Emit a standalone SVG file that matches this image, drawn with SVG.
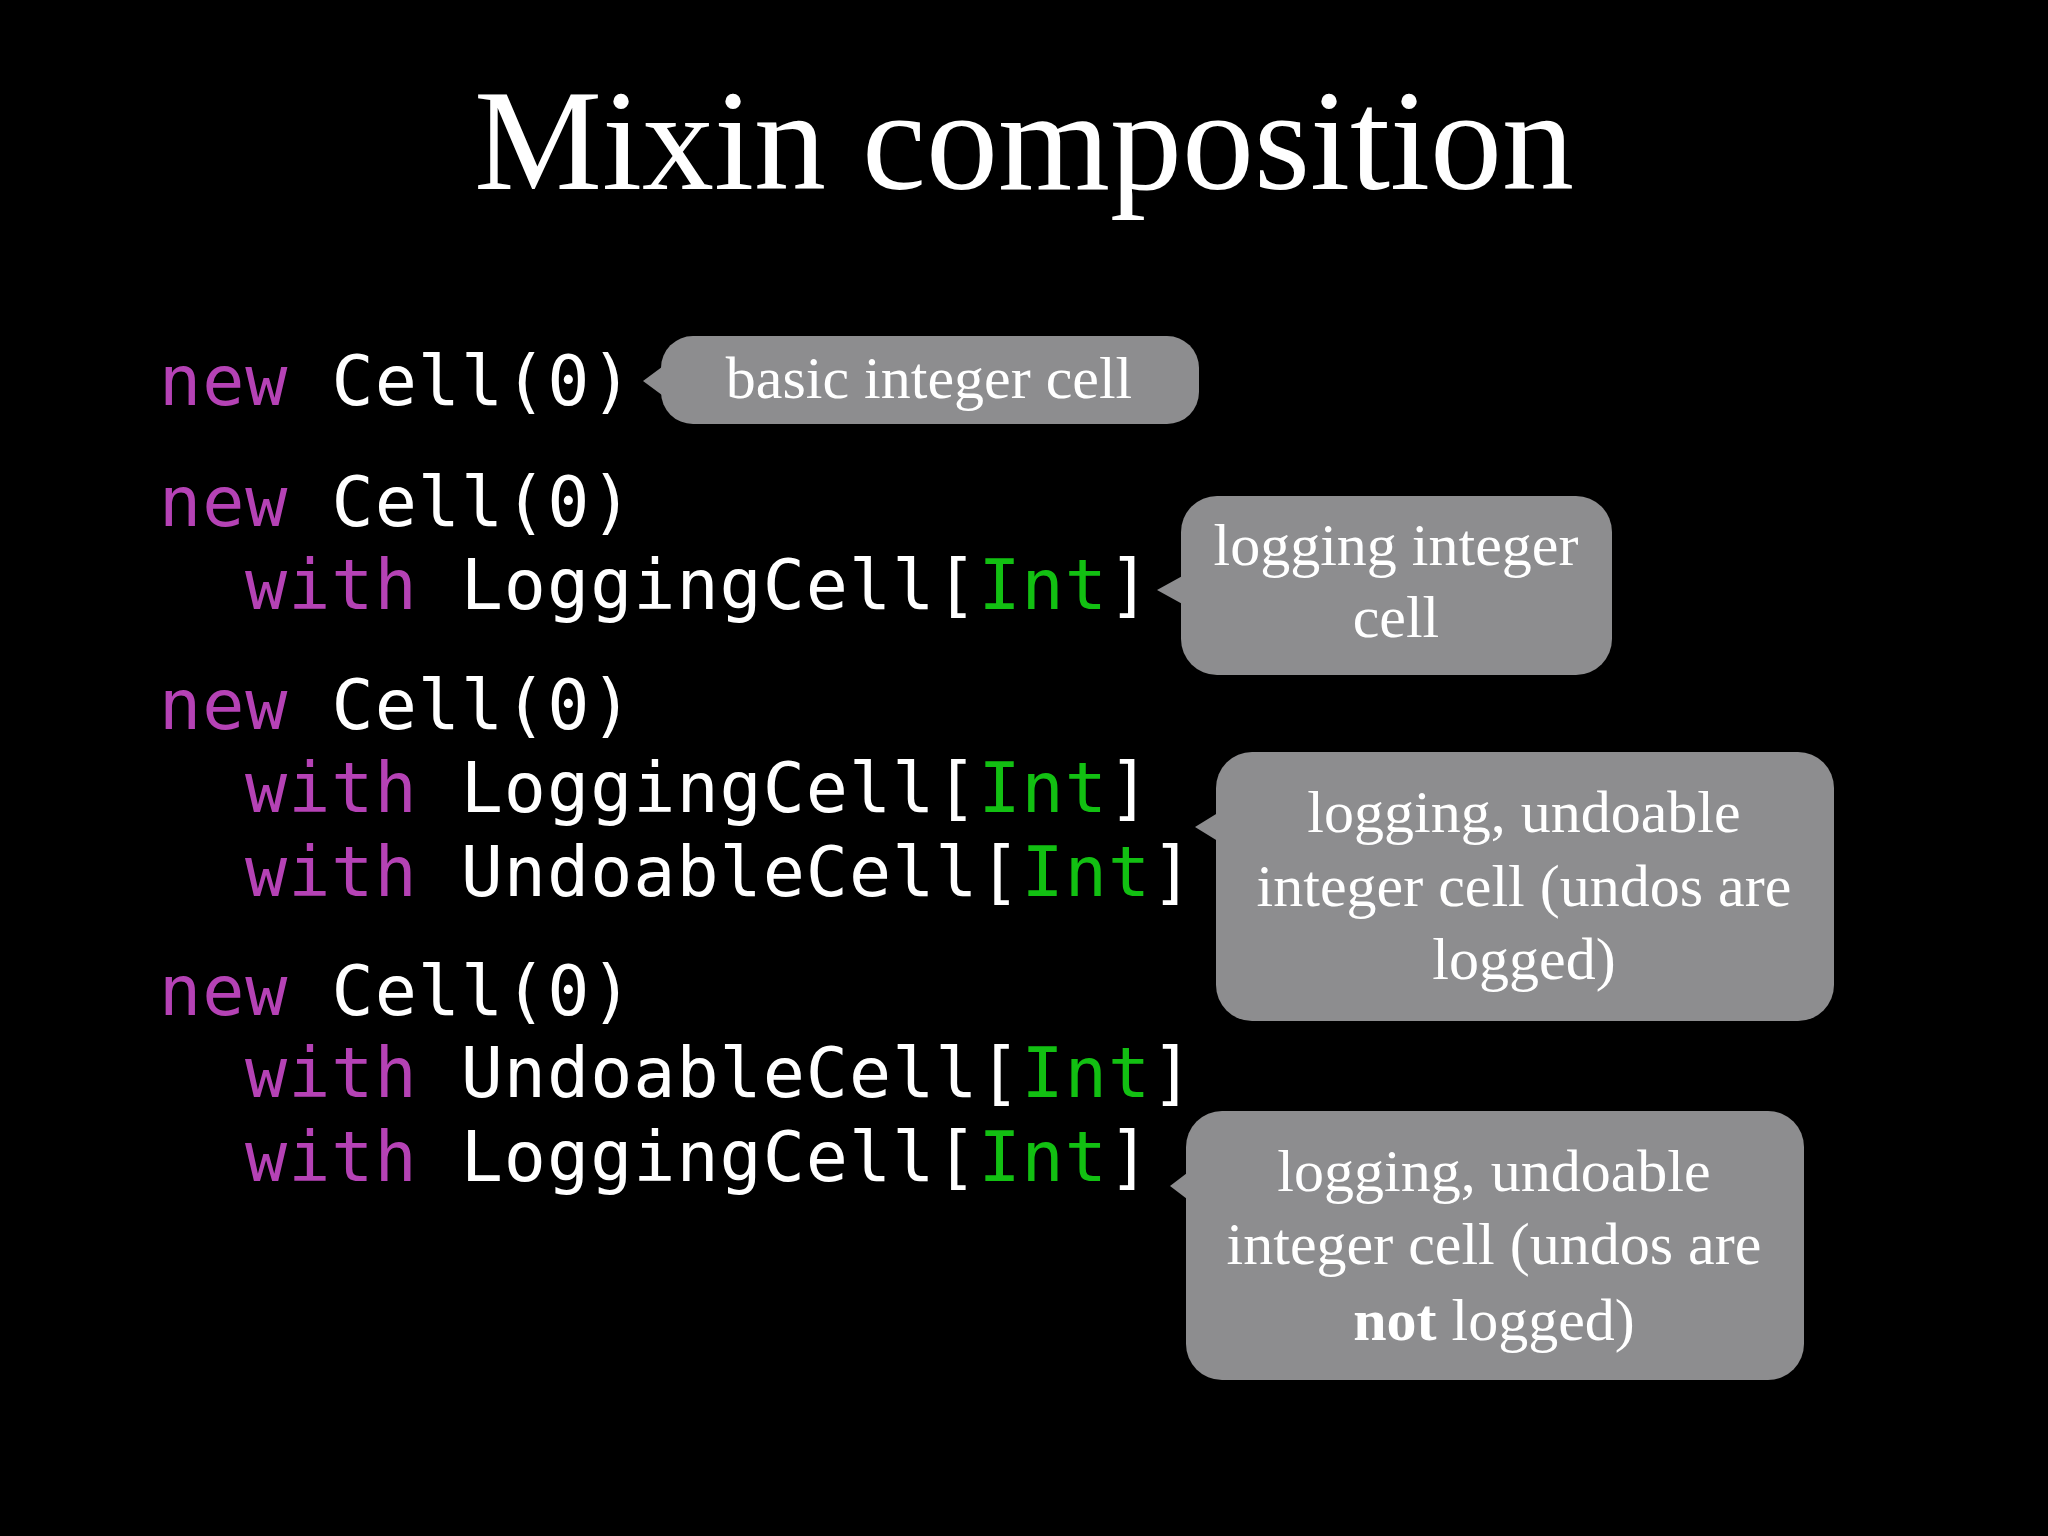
<svg xmlns="http://www.w3.org/2000/svg" width="2048" height="1536" viewBox="0 0 2048 1536">
<style>
.code{font-family:"DejaVu Sans Mono","Liberation Mono",monospace;font-size:70px;fill:#ffffff;letter-spacing:1px}
.kw{fill:#b542b5}
.ty{fill:#12c012}
.bub{fill:#8d8d8f}
.bt{font-family:"Liberation Serif",serif;font-size:60px;fill:#ffffff;text-anchor:middle}
</style>
<rect width="2048" height="1536" fill="#000"/>
<text x="1024" y="189" font-family="Liberation Serif,serif" font-size="144" fill="#fff" text-anchor="middle">Mixin composition</text>
<g id="code">
<text class="code" x="159" y="405"><tspan class="kw">new</tspan> Cell(0)</text>
<text class="code" x="159" y="526"><tspan class="kw">new</tspan> Cell(0)</text>
<text class="code" x="245" y="609"><tspan class="kw">with</tspan> LoggingCell[<tspan class="ty">Int</tspan>]</text>
<text class="code" x="159" y="729"><tspan class="kw">new</tspan> Cell(0)</text>
<text class="code" x="245" y="812"><tspan class="kw">with</tspan> LoggingCell[<tspan class="ty">Int</tspan>]</text>
<text class="code" x="245" y="896"><tspan class="kw">with</tspan> UndoableCell[<tspan class="ty">Int</tspan>]</text>
<text class="code" x="159" y="1015"><tspan class="kw">new</tspan> Cell(0)</text>
<text class="code" x="245" y="1097"><tspan class="kw">with</tspan> UndoableCell[<tspan class="ty">Int</tspan>]</text>
<text class="code" x="245" y="1181"><tspan class="kw">with</tspan> LoggingCell[<tspan class="ty">Int</tspan>]</text>
</g>
<g id="callout1">
<rect class="bub" x="661" y="336" width="538" height="88" rx="32"/>
<polygon class="bub" points="643,381 666,364 666,398"/>
<text class="bt" x="929" y="398">basic integer cell</text>
</g>
<g id="callout2">
<rect class="bub" x="1181" y="496" width="431" height="179" rx="36"/>
<polygon class="bub" points="1157,590 1186,574 1186,606"/>
<text class="bt" x="1396" y="565">logging integer</text>
<text class="bt" x="1396" y="637">cell</text>
</g>
<g id="callout3">
<rect class="bub" x="1216" y="752" width="618" height="269" rx="36"/>
<polygon class="bub" points="1195,827 1221,811 1221,843"/>
<text class="bt" x="1524" y="832">logging, undoable</text>
<text class="bt" x="1524" y="906">integer cell (undos are</text>
<text class="bt" x="1524" y="979">logged)</text>
</g>
<g id="callout4">
<rect class="bub" x="1186" y="1111" width="618" height="269" rx="36"/>
<polygon class="bub" points="1170,1186 1191,1170 1191,1202"/>
<text class="bt" x="1494" y="1191">logging, undoable</text>
<text class="bt" x="1494" y="1264">integer cell (undos are</text>
<text class="bt" x="1494" y="1340"><tspan font-weight="bold">not</tspan> logged)</text>
</g>
<g id="connectors"/>
</svg>
